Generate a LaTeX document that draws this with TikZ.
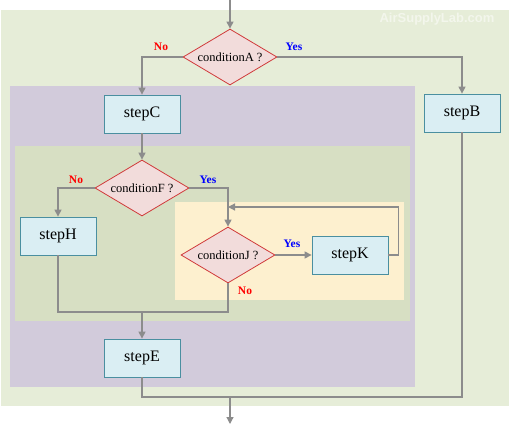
\documentclass[tikz,border=0pt]{standalone}
\usepackage{fontspec}
\setmainfont{Liberation Serif}
\newfontfamily\wmfont{Liberation Sans}
\usetikzlibrary{arrows.meta,shapes.geometric}
\definecolor{outerbg}{HTML}{E6EDD8}
\definecolor{purplebg}{HTML}{D2CBDB}
\definecolor{greenbg}{HTML}{D7DFC3}
\definecolor{yellowbg}{HTML}{FDF0CF}
\definecolor{boxfill}{HTML}{DAEEF3}
\definecolor{boxline}{HTML}{4A8FA0}
\definecolor{diafill}{HTML}{F2DCDB}
\definecolor{dialine}{HTML}{D03A3A}
\definecolor{linegray}{HTML}{8C8C8C}
\definecolor{wmcol}{HTML}{F3F6EC}
\tikzset{
  stepbox/.style={rectangle, draw=boxline, fill=boxfill, line width=0.8pt,
    minimum width=76pt, minimum height=38pt, inner sep=0pt,
    font=\fontsize{16}{18}\selectfont},
  condbox/.style={diamond, aspect=1.75, draw=dialine, fill=diafill, line width=0.8pt,
    minimum width=94pt, minimum height=56pt, inner sep=0pt,
    font=\fontsize{12.5}{14}\selectfont},
  conn/.style={draw=linegray, line width=1.2pt},
  arr/.style={conn, -{Triangle[length=7pt,width=7pt]}},
  nolab/.style={text=red, font=\bfseries\fontsize{11.5}{13}\selectfont},
  yeslab/.style={text=blue, font=\bfseries\fontsize{11.5}{13}\selectfont},
}
\begin{document}
\begin{tikzpicture}[x=1pt,y=-1pt]
\useasboundingbox (0,0) rectangle (510,425);
\fill[white] (0,0) rectangle (510,425);
% regions
\fill[outerbg] (1,10) rectangle (509,406);
\fill[purplebg] (10,86) rectangle (415,387);
\fill[greenbg] (15,146) rectangle (410,321);
\fill[yellowbg] (175,202) rectangle (404,300);
% watermark
\node[text=wmcol, font=\wmfont\bfseries\fontsize{13}{15}\selectfont] (wm) at (437,19) {AirSupplyLab.com};
% nodes
\node[condbox] (cA) at (230,57) {conditionA ?};
\node[stepbox] (sB) at (462,113) {stepB};
\node[stepbox] (sC) at (142,114) {stepC};
\node[condbox] (cF) at (142,188) {conditionF ?};
\node[stepbox] (sH) at (58,236) {stepH};
\node[condbox] (cJ) at (228,255) {conditionJ ?};
\node[stepbox] (sK) at (350,255) {stepK};
\node[stepbox] (sE) at (142,358) {stepE};
% helper coordinates
\coordinate (top) at (230,0);
\coordinate (jin) at (228,207);
\coordinate (m) at (142,312);
\coordinate (bj) at (230,397);
\coordinate (bottom) at (230,424);
% connectors
\draw[arr] (top) -- (cA.north);
\draw[arr] (cA.west) -| (sC.north);
\draw[arr] (cA.east) -| (sB.north);
\draw[arr] (sC.south) -- (cF.north);
\draw[arr] (cF.west) -| (sH.north);
\draw[arr] (cF.east) -| (cJ.north);
\draw[arr] (cJ.east) -- (sK.west);
\draw[arr] (sK.east) -- ++(10,0) |- (jin);
\draw[conn] (sH.south) |- (m);
\draw[conn] (cJ.south) |- (m);
\draw[arr] (m) -- (sE.north);
\draw[conn] (sE.south) |- (bj);
\draw[conn] (sB.south) |- (bj);
\draw[arr] (bj) -- (bottom);
% labels
\node[nolab] (lA1) at (161,47) {No};
\node[yeslab] (lA2) at (294,47) {Yes};
\node[nolab] (lF1) at (76,180) {No};
\node[yeslab] (lF2) at (208,180) {Yes};
\node[yeslab] (lJ1) at (292,244) {Yes};
\node[nolab] (lJ2) at (245,291) {No};
\end{tikzpicture}
\end{document}
